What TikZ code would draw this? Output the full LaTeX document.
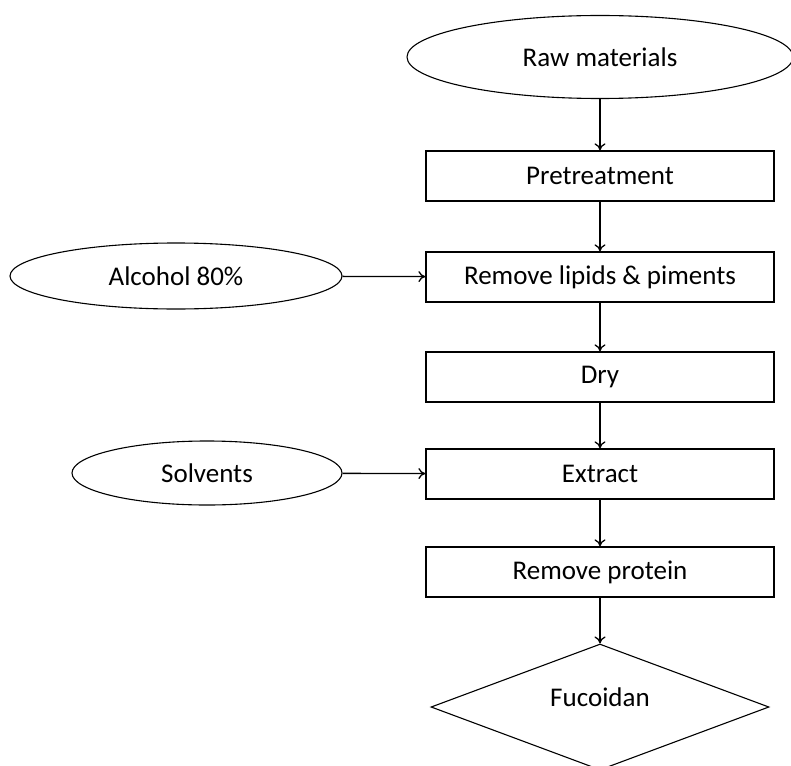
\documentclass[tikz,border=0pt]{standalone}
\usepackage{fontspec}
\setmainfont{Carlito}
\usepackage{tikz}
\usetikzlibrary{arrows.meta,positioning,shapes.geometric}

\begin{document}
\begin{tikzpicture}[
  x=1pt,y=-1pt,
  stepbox/.style={rectangle,draw,line width=1.3pt,minimum width=348pt,minimum height=50pt,inner sep=0pt},
  input/.style={ellipse,draw,line width=1.1pt,inner sep=0pt},
  product/.style={diamond,draw,line width=1.1pt,minimum width=338pt,minimum height=126pt,aspect=2.68,inner sep=0pt},
  flow/.style={line width=1.3pt,-{To[length=7pt,width=11pt]}},
  font=\fontsize{27}{32}\selectfont
]
\useasboundingbox (0,0) rectangle (791,765);
\node[input,minimum width=386pt,minimum height=83pt] (raw) at (600,57) {Raw materials};
\node[stepbox] (pre) at (600,176) {Pretreatment};
\node[stepbox] (lip) at (600,277) {Remove lipids \& piments};
\node[stepbox] (dry) at (600,377) {Dry};
\node[stepbox] (ext) at (600,474) {Extract};
\node[stepbox] (prot) at (600,572) {Remove protein};
\node[product] (fuc) at (600,707) {};
\node at (600,697) {Fucoidan};
\node[input,minimum width=332pt,minimum height=66pt] (alc) at (176,276) {Alcohol 80\%};
\node[input,minimum width=270pt,minimum height=64pt] (sol) at (207,473) {Solvents};
\draw[flow] (raw) -- (pre);
\draw[flow] (pre) -- (lip);
\draw[flow] (lip) -- (dry);
\draw[flow] (dry) -- (ext);
\draw[flow] (ext) -- (prot);
\draw[flow] (prot) -- (fuc);
\draw[flow] (alc) -- (lip);
\draw[flow] (sol) -- (ext);
\end{tikzpicture}
\end{document}
